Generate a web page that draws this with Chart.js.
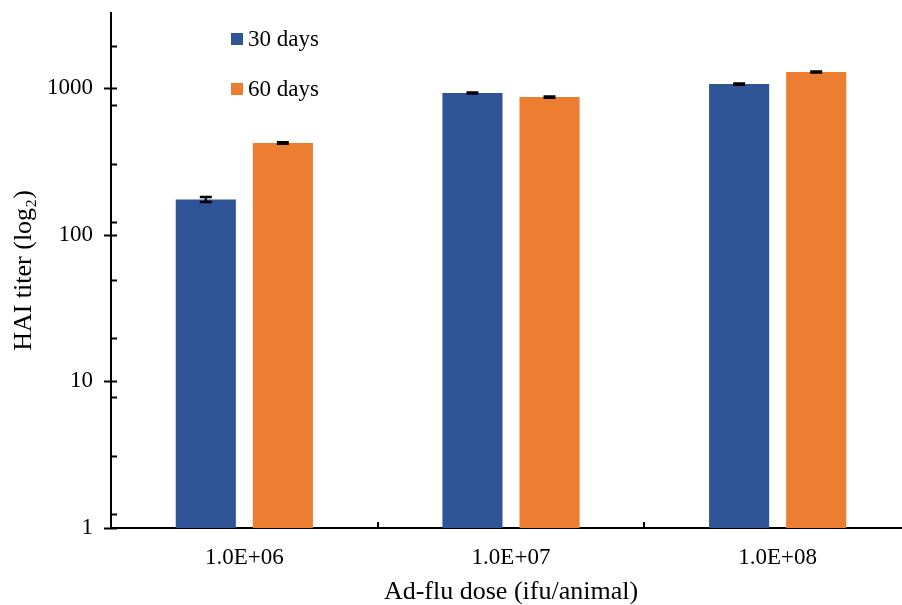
<!DOCTYPE html>
<html>
<head>
<meta charset="utf-8">
<script src="https://cdn.jsdelivr.net/npm/chart.js@4.4.1/dist/chart.umd.min.js"></script>
<style>
  html, body { margin: 0; padding: 0; overflow: hidden; background: #fff; }
  #wrap { position: relative; width: 912px; height: 605px; }
  #legend { position: absolute; left: 231px; top: 26px; font-family: "Liberation Serif", serif; font-size: 23px; color: #000; }
  .item { display: flex; align-items: center; height: 26px; margin-bottom: 24px; }
  .swatch { width: 12px; height: 12px; margin-right: 5px; }
</style>
</head>
<body>
<div id="wrap">
  <canvas id="hai"></canvas>
  <div id="legend"></div>
</div>
<script>
// Chart data
const doses = ['1.0E+06', '1.0E+07', '1.0E+08'];
const titer30 = [174, 925, 1065];
const titer60 = [422, 868, 1285];
const err30 = [7, 8, 10];
const err60 = [5, 8, 10];
const majorTicks = [1, 10, 100, 1000];
const minorTicks = [1.25, 3.1, 7.8, 19.6, 49, 122, 305, 770, 1940];

const FONT = 'Liberation Serif';

// Axis tick marks + error bars drawn against the chart scales
const decorations = {
    id: 'decorations',
    afterDatasetsDraw(chart) {
        const ctx = chart.ctx;
        const y = chart.scales.y;
        const x = chart.scales.x;
        const axisX = chart.chartArea.left;
        const axisY = chart.chartArea.bottom;
        ctx.save();
        ctx.strokeStyle = '#000';

        // error bars
        ctx.lineWidth = 2.5;
        chart.data.datasets.forEach((ds, di) => {
            const meta = chart.getDatasetMeta(di);
            meta.data.forEach((bar, i) => {
                const top = y.getPixelForValue(ds.data[i] + ds.errors[i]);
                const bot = y.getPixelForValue(ds.data[i] - ds.errors[i]);
                ctx.beginPath();
                ctx.moveTo(bar.x - 6, top); ctx.lineTo(bar.x + 6, top);
                ctx.moveTo(bar.x, top); ctx.lineTo(bar.x, bot);
                ctx.moveTo(bar.x - 6, bot); ctx.lineTo(bar.x + 6, bot);
                ctx.stroke();
            });
        });

        // y axis major ticks (cross the axis) and minor ticks (inside)
        ctx.lineWidth = 2;
        ctx.beginPath();
        majorTicks.forEach(v => {
            const py = Math.round(y.getPixelForValue(v)) + 0.5;
            ctx.moveTo(axisX - 7, py); ctx.lineTo(axisX + 6, py);
        });
        minorTicks.forEach(v => {
            const py = Math.round(y.getPixelForValue(v)) + 0.5;
            ctx.moveTo(axisX, py); ctx.lineTo(axisX + 6, py);
        });

        // x axis ticks between categories, pointing up
        for (let i = 0; i < doses.length - 1; i++) {
            const px = Math.round((x.getPixelForValue(i) + x.getPixelForValue(i + 1)) / 2);
            ctx.moveTo(px, axisY); ctx.lineTo(px, axisY - 6);
        }
        ctx.stroke();
        ctx.restore();
    }
};

const chart = new Chart(document.getElementById('hai'), {
    type: 'bar',
    data: {
        labels: doses,
        datasets: [
            {
                label: '30 days',
                data: titer30,
                errors: err30,
                backgroundColor: '#2F5597',
                categoryPercentage: 0.578,
                barPercentage: 0.78
            },
            {
                label: '60 days',
                data: titer60,
                errors: err60,
                backgroundColor: '#ED7D31',
                categoryPercentage: 0.578,
                barPercentage: 0.78
            }
        ]
    },
    options: {
        responsive: true,
        maintainAspectRatio: false,
        animation: false,
        layout: { padding: { top: 13, left: 0, right: 1, bottom: 0 } },
        plugins: {
            legend: { display: false },
            tooltip: { enabled: false }
        },
        scales: {
            x: {
                grid: { display: false, drawTicks: false },
                border: { display: true, color: '#000', width: 2 },
                ticks: { color: '#000', padding: 16, font: { family: FONT, size: 23 } },
                title: {
                    display: true,
                    text: 'Ad-flu dose (ifu/animal)',
                    color: '#000',
                    font: { family: FONT, size: 26, lineHeight: 1 },
                    padding: { top: 0, bottom: 0 }
                },
                afterFit: scale => {
                    scale.height = 77;
                    scale.paddingLeft = 0;
                    scale.paddingRight = 0;
                }
            },
            y: {
                type: 'logarithmic',
                min: 1,
                max: 3250,
                afterBuildTicks: scale => {
                    scale.ticks = majorTicks.map(v => ({ value: v, major: true }));
                },
                grid: { display: false, drawTicks: false },
                border: { display: true, color: '#000', width: 2 },
                ticks: {
                    color: '#000',
                    padding: 18,
                    font: { family: FONT, size: 23, lineHeight: 1 },
                    callback: v => String(v)
                },
                title: {
                    display: true,
                    text: 'HAI titer (log\u2082)',
                    color: '#000',
                    font: { family: FONT, size: 26, lineHeight: 1.2 },
                    padding: { top: 9, bottom: 0 }
                },
                afterFit: scale => {
                    scale.width = 111;
                    scale.paddingTop = 0;
                    scale.paddingBottom = 0;
                }
            }
        }
    },
    plugins: [decorations]
});

// HTML legend built from the datasets
const legend = document.getElementById('legend');
chart.data.datasets.forEach(ds => {
    const item = document.createElement('div');
    item.className = 'item';
    item.innerHTML = '<span class="swatch" style="background:' + ds.backgroundColor + '"></span><span>' + ds.label + '</span>';
    legend.appendChild(item);
});
</script>
</body>
</html>
